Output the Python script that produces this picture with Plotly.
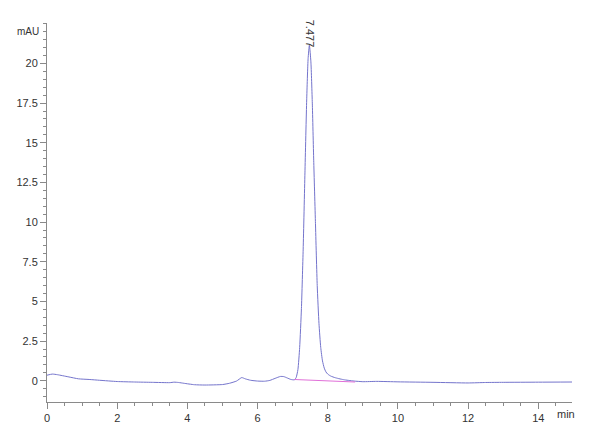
import plotly.graph_objects as go

# Chromatogram signal (time in min, absorbance in mAU)
time_min = [0.00, 0.15, 0.30, 0.60, 0.90, 1.20, 1.50, 2.00, 2.50, 3.00, 3.50, 3.62, 3.75,
            3.90, 4.20, 4.50, 5.00, 5.20, 5.40, 5.55, 5.65, 5.80, 6.00, 6.20, 6.35, 6.50,
            6.65, 6.75, 6.85, 6.95, 7.05, 7.10, 7.15, 7.20, 7.25, 7.30, 7.35, 7.40, 7.44,
            7.477, 7.52, 7.56, 7.60, 7.65, 7.70, 7.75, 7.80, 7.85, 7.90, 7.95, 8.00, 8.05,
            8.10, 8.20, 8.30, 8.40, 8.50, 8.60, 8.75, 9.00, 9.40, 10.00, 11.00, 12.00,
            12.50, 13.00, 14.00, 15.00]
signal_mau = [0.35, 0.42, 0.38, 0.25, 0.12, 0.08, 0.03, -0.05, -0.08, -0.10, -0.12, -0.09,
              -0.11, -0.16, -0.25, -0.27, -0.24, -0.16, -0.02, 0.20, 0.12, 0.03, -0.02,
              -0.03, 0.02, 0.15, 0.27, 0.26, 0.17, 0.08, 0.06, 0.20, 0.70, 2.10, 4.55,
              8.30, 13.10, 17.70, 20.30, 21.15, 20.10, 17.50, 13.90, 9.90, 6.00, 3.60,
              2.10, 1.25, 0.80, 0.55, 0.42, 0.34, 0.28, 0.20, 0.14, 0.09, 0.05, 0.02,
              -0.02, -0.06, -0.04, -0.07, -0.10, -0.14, -0.11, -0.10, -0.09, -0.08]

# Integration baseline under the main peak
base_time = [7.05, 8.78]
base_mau = [0.08, -0.08]

# Peak label
peak_rt = 7.477
peak_label = "7.477"

x_ticks = [0, 2, 4, 6, 8, 10, 12, 14]
y_ticks = [0, 2.5, 5, 7.5, 10, 12.5, 15, 17.5, 20]
y_tick_text = ["0", "2.5", "5", "7.5", "10", "12.5", "15", "17.5", "20"]

fig = go.Figure()
fig.add_trace(go.Scatter(x=time_min, y=signal_mau, mode="lines",
                         line=dict(color="#7474cc", width=1.0, shape="spline", smoothing=0.5),
                         hoverinfo="skip", showlegend=False))
fig.add_trace(go.Scatter(x=base_time, y=base_mau, mode="lines",
                         line=dict(color="#e070d8", width=1.1),
                         hoverinfo="skip", showlegend=False))

font_family = "Liberation Sans Narrow, Liberation Sans, Arial, sans-serif"
axis_col = "#8a8a8a"

fig.update_layout(
    width=600, height=440,
    margin=dict(l=39, r=36, t=15, b=46, autoexpand=False),
    paper_bgcolor="white", plot_bgcolor="white",
    font=dict(family=font_family, size=11, color="#333333"),
    xaxis=dict(range=[0, 14.96], showgrid=False, zeroline=False, automargin=False,
               showline=True, linecolor=axis_col, linewidth=1,
               tickmode="array", tickvals=x_ticks, ticks="outside",
               ticklen=6, tickcolor=axis_col,
               minor=dict(dtick=0.5, ticklen=3, tickcolor=axis_col, ticks="outside"),
               tickfont=dict(size=11, color="#333333")),
    yaxis=dict(range=[-1.34, 22.55], showgrid=False, zeroline=False, automargin=False,
               showline=True, linecolor=axis_col, linewidth=1,
               tickmode="array", tickvals=y_ticks, ticktext=y_tick_text,
               ticks="outside", ticklen=6, tickcolor=axis_col,
               minor=dict(dtick=0.5, ticklen=3, tickcolor=axis_col, ticks="outside"),
               tickfont=dict(size=11, color="#333333")),
    annotations=[
        dict(x=peak_rt, y=21.85, xref="x", yref="y", text=peak_label,
             showarrow=False, textangle=90, xanchor="center", yanchor="middle",
             font=dict(size=11, color="#333333")),
        dict(x=0, y=1, xref="paper", yref="paper", text="mAU", showarrow=False,
             xanchor="right", yanchor="middle", xshift=-6, yshift=-8,
             font=dict(size=10, color="#333333")),
        dict(x=14.78, y=0, xref="x", yref="paper", text="min", showarrow=False,
             xanchor="center", yanchor="top", yshift=-4,
             font=dict(size=11, color="#333333")),
    ],
)

fig.write_html("out.html")
